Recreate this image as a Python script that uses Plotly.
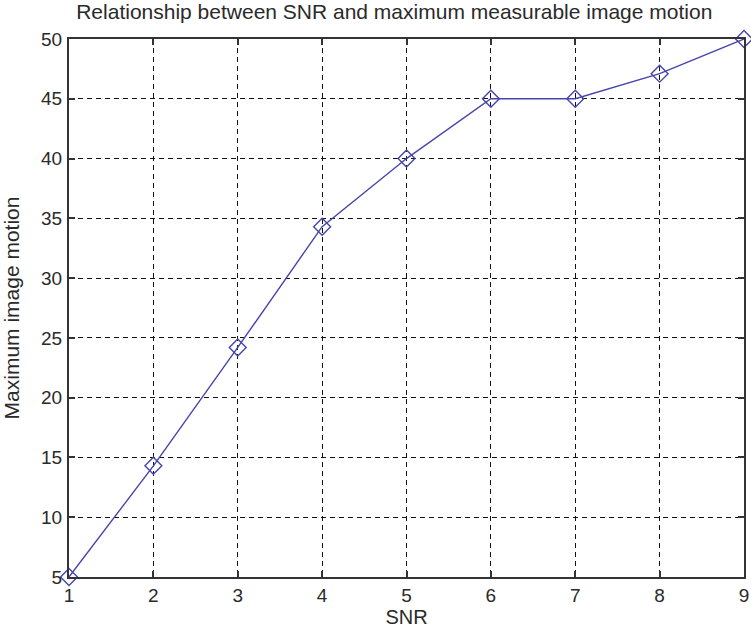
import plotly.graph_objects as go

snr = [1, 2, 3, 4, 5, 6, 7, 8, 9]
motion = [5, 14.3, 24.2, 34.3, 40.0, 45.0, 45.0, 47.1, 50.0]
x_ticks = [1, 2, 3, 4, 5, 6, 7, 8, 9]
y_ticks = [5, 10, 15, 20, 25, 30, 35, 40, 45, 50]

FONT = "Liberation Sans, Arial"
TXT = "#2a2a2a"

fig = go.Figure()
fig.add_trace(go.Scatter(
    x=snr, y=motion, mode="lines+markers",
    line=dict(color="#4646aa", width=1.4),
    marker=dict(symbol="diamond-open", size=13, color="#4646aa", line=dict(width=1.4)),
    cliponaxis=False,
))

axis_common = dict(
    showgrid=True, gridcolor="#111", griddash="5px,4px", gridwidth=1.3,
    showline=True, linecolor="#333", linewidth=2, mirror="allticks",
    ticks="inside", ticklen=6, tickcolor="#333", tickwidth=1.5,
    zeroline=False, ticklabeloverflow="allow",
    tickfont=dict(family=FONT, size=19, color=TXT),
)

fig.update_layout(
    width=751, height=631,
    margin=dict(l=69, r=2, t=39, b=54),
    plot_bgcolor="white", paper_bgcolor="white",
    showlegend=False,
    title=dict(text="Relationship between SNR and maximum measurable image motion",
               x=0.525, xanchor="center", y=0.993, yanchor="top",
               font=dict(family=FONT, size=21, color=TXT)),
    xaxis=dict(range=[1, 9], tickvals=x_ticks, ticklabelstandoff=0,
               title=dict(text="SNR", standoff=4,
                          font=dict(family=FONT, size=20, color=TXT)),
               **axis_common),
    yaxis=dict(range=[5, 50], tickvals=y_ticks, ticklabelstandoff=1,
               title=dict(text="Maximum image motion", standoff=16,
                          font=dict(family=FONT, size=21, color=TXT)),
               **axis_common),
)

fig.write_html("out.html")
